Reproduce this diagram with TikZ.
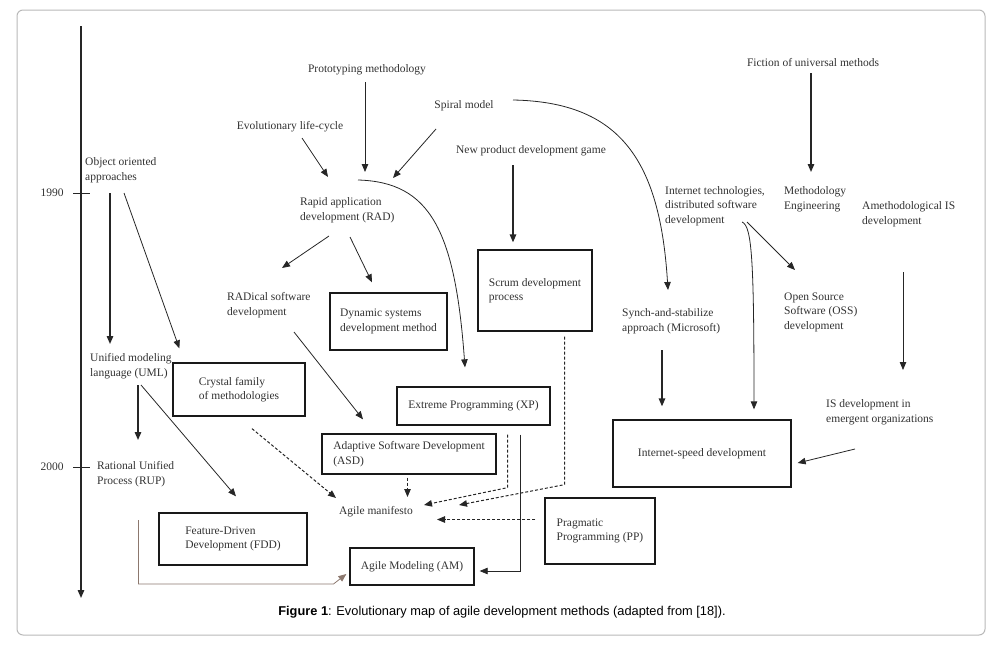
\documentclass[tikz,border=0pt]{standalone}
\usepackage{fontspec}
\setmainfont{Liberation Serif}
\newfontfamily\capfont{Liberation Sans}
\usetikzlibrary{arrows.meta,calc}
\definecolor{txt}{RGB}{50,50,50}
\definecolor{brownline}{RGB}{140,120,110}
\begin{document}
\begin{tikzpicture}[x=1pt,y=-1pt,
 lbl/.style={inner sep=0pt, align=left, font=\fontsize{11.5}{14.5}\selectfont, text=txt},
 box/.style={draw=black!90, line width=1.3pt, inner sep=0pt, align=left, font=\fontsize{11.5}{14.5}\selectfont, text=txt},
 arr/.style={-{Triangle[length=8pt,width=6.5pt]}, line width=0.8pt, draw=black!85},
 thk/.style={arr, line width=1.4pt},
 dsh/.style={arr, line width=1pt, dash pattern=on 3pt off 2pt},
]
\useasboundingbox (0,0) rectangle (999,645);
\draw[gray!55, line width=1pt, rounded corners=6pt] (17,10) rectangle (985,635);

% timeline
\coordinate (tl0) at (81,26);
\coordinate (tl1) at (81,598);
\coordinate (t90) at (81,193);
\coordinate (t00) at (81,467);
\draw[thk] (tl0) -- (tl1);
\draw[line width=0.8pt, black!85] ($(t90)+(-8,0)$) -- ($(t90)+(9,0)$);
\draw[line width=0.8pt, black!85] ($(t00)+(-8,0)$) -- ($(t00)+(9,0)$);
\node[lbl] (y1990) at (52,193) {1990};
\node[lbl] (y2000) at (52,467) {2000};

% text nodes
\node[lbl, anchor=west] (oo) at (85,170) {Object oriented\\approaches};
\node[lbl] (proto) at (367,70) {Prototyping methodology};
\node[lbl] (spiral) at (464,106) {Spiral model};
\node[lbl] (evol) at (290,127) {Evolutionary life-cycle};
\node[lbl] (npd) at (531,151) {New product development game};
\node[lbl] (fict) at (813,63) {Fiction of universal methods};
\node[lbl, anchor=west] (rad) at (300,210) {Rapid application\\development (RAD)};
\node[lbl, anchor=west] (radical) at (227,305) {RADical software\\development};
\node[lbl, anchor=west] (uml) at (90,366) {Unified modeling\\language (UML)};
\node[lbl, anchor=west] (rup) at (97,474) {Rational Unified\\Process (RUP)};
\node[lbl] (manif) at (376,512) {Agile manifesto};
\node[lbl, anchor=west] (synch) at (622,321) {Synch-and-stabilize\\approach (Microsoft)};
\node[lbl, anchor=west] (inet) at (665,206) {Internet technologies,\\distributed software\\development};
\node[lbl, anchor=west] (meth) at (784,199) {Methodology\\Engineering};
\node[lbl, anchor=west] (ameth) at (862,214) {Amethodological IS\\development};
\node[lbl, anchor=west] (oss) at (784,312) {Open Source\\Software (OSS)\\development};
\node[lbl, anchor=west] (isem) at (826,412) {IS development in\\emergent organizations};

% boxes
\node[box, minimum width=117pt, minimum height=57pt] (dsdm) at (388.5,321.5) {Dynamic systems\\development method};
\node[box, minimum width=114pt, minimum height=81pt] (scrum) at (535,290.5) {Scrum development\\process};
\node[box, minimum width=132pt, minimum height=53pt] (crystal) at (239,389.5) {Crystal family\\of methodologies};
\node[box, minimum width=153pt, minimum height=38pt] (xp) at (473.5,406) {Extreme Programming (XP)};
\node[box, minimum width=174pt, minimum height=40pt] (asd) at (409,454) {Adaptive Software Development\\(ASD)};
\node[box, minimum width=148pt, minimum height=52pt] (fdd) at (233,539) {Feature-Driven\\Development (FDD)};
\node[box, minimum width=110pt, minimum height=66pt] (pp) at (600,531) {Pragmatic\\Programming (PP)};
\node[box, minimum width=124pt, minimum height=37pt] (am) at (412,566.5) {Agile Modeling (AM)};
\node[box, minimum width=178pt, minimum height=67pt] (isd) at (702,453.5) {Internet-speed development};

% connectors
\draw[thk] ($(oo.west)+(25,23)$) -- ($(uml.west)+(20,-22)$);
\draw[arr] ($(oo.west)+(39,23)$) -- ($(crystal.north west)+(7,-14)$);
\draw[arr] ($(evol)+(12,11)$) -- ($(rad.west)+(28,-33)$);
\draw[arr] ($(proto)+(-2,12)$) -- ($(rad.west)+(65,-38)$);
\draw[arr] ($(spiral)+(-28,23)$) -- ($(rad.west)+(93,-32)$);
\draw[arr] ($(rad.west)+(58,-30)$) .. controls (430,182) and (455,230) .. ($(xp.north)+(-8.5,-19)$);
\draw[arr] ($(rad.west)+(29,26)$) -- ($(radical.west)+(55,-37)$);
\draw[arr] ($(rad.west)+(50,27)$) -- ($(dsdm.north)+(-16.5,-10)$);
\draw[arr] ($(spiral)+(49,-6)$) .. controls (620,102) and (660,160) .. ($(synch.west)+(46,-31)$);
\draw[thk] ($(npd)+(-18,14)$) -- ($(scrum.north)+(-22,-7)$);
\draw[thk] ($(fict)+(-2,10)$) -- ($(meth.west)+(27,-27)$);
\draw[arr] ($(inet.west)+(82,16)$) -- ($(oss.west)+(11,-42)$);
\draw[arr] ($(inet.west)+(77,16)$) .. controls (752,226) and (754,260) .. ($(isd.north)+(52,-10)$);
\draw[thk] ($(synch.west)+(40,29)$) -- ($(isd.north)+(-40,-13)$);
\draw[arr] ($(ameth.west)+(41,58)$) -- ($(isem.west)+(77,-42)$);
\draw[arr] ($(isem.west)+(29,37)$) -- ($(isd.east)+(6,9.5)$);
\draw[arr] ($(radical.west)+(67,27)$) -- ($(asd.north)+(-46,-14)$);
\draw[thk] ($(uml.west)+(48,19)$) -- ($(rup.west)+(41,-34)$);
\draw[arr] ($(uml.west)+(51,19)$) -- ($(fdd.north)+(3,-16)$);
\draw[dsh] ($(crystal.south)+(13,12)$) -- ($(manif)+(-40,-14)$);
\draw[dsh] ($(asd.south)+(-1.5,3)$) -- ($(manif)+(31.5,-15)$);
\draw[dsh] ($(xp.south)+(34,9)$) -- ++(0,53) -- ($(manif)+(48,-7)$);
\draw[dsh] ($(scrum.south)+(29.5,5)$) -- ++(0,148) -- ($(manif)+(83,-7)$);
\draw[dsh] ($(pp.west)+(-9,-11.5)$) -- ($(manif)+(61,7.5)$);
\draw[arr] ($(xp.south)+(47,9)$) |- ($(am.east)+(5,4.5)$);
\draw[arr, draw=brownline] ($(rup.west)+(41.5,46)$) -- ++(0,64) -- ++(195,0) -- ($(am.west)+(-3,7.5)$);

% caption
\node[font=\capfont\fontsize{12.8}{15}\selectfont, inner sep=0pt] (cap) at (502,612) {\textbf{Figure 1}: Evolutionary map of agile development methods (adapted from [18]).};
\end{tikzpicture}
\end{document}
